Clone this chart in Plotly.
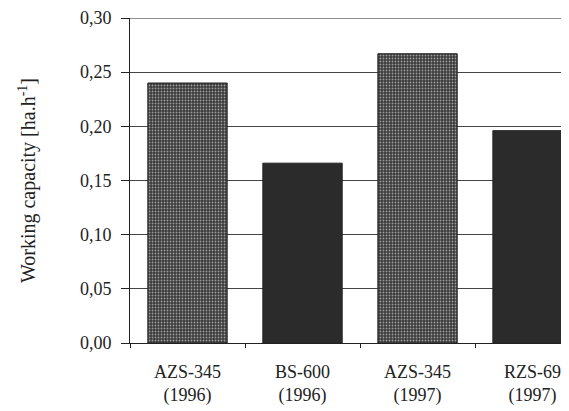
import plotly.graph_objects as go

categories = ["AZS-345<br>(1996)", "BS-600<br>(1996)", "AZS-345<br>(1997)", "RZS-69<br>(1997)"]
values = [0.240, 0.166, 0.267, 0.196]
textured = [True, False, True, False]

fig = go.Figure()
fig.add_trace(go.Bar(
    x=categories, y=values, width=0.69,
    marker=dict(
        color=["#3a3a3a" if t else "#2b2b2b" for t in textured],
        line=dict(color="#222222", width=1),
        pattern=dict(shape=["." if t else "" for t in textured],
                     fgcolor="#a0a0a0", bgcolor="#404040", size=3, solidity=0.3),
    ),
))

font_family = "Liberation Serif, Times New Roman, serif"
fig.update_layout(
    width=561, height=403,
    margin=dict(l=122, r=0, t=10, b=68),
    plot_bgcolor="white", paper_bgcolor="white",
    separators=",.",
    showlegend=False,
    font=dict(family=font_family, size=18, color="#222222"),
)
fig.update_yaxes(
    range=[0, 0.30], dtick=0.05, tickformat=".2f",
    showgrid=True, gridcolor="#444444", gridwidth=1,
    showline=True, linecolor="#222222", linewidth=1,
    ticks="outside", ticklen=8, tickcolor="#222222",
    ticklabelstandoff=6, ticklabeloverflow="allow",
    title=dict(text="Working capacity [ha.h<sup>-1</sup>]", font=dict(size=20), standoff=38),
    zeroline=False,
)
fig.update_xaxes(
    range=[-0.5, 3.317],
    showline=True, linecolor="#222222", linewidth=1,
    ticks="outside", ticklen=4, tickcolor="#222222", tickson="boundaries",
    ticklabelstandoff=12, ticklabeloverflow="allow",
    showgrid=False,
)
fig.add_shape(type="line", xref="paper", yref="y", x0=0, x1=1, y0=0.30, y1=0.30,
              line=dict(color="#222222", width=1))

fig.write_html("out.html")
